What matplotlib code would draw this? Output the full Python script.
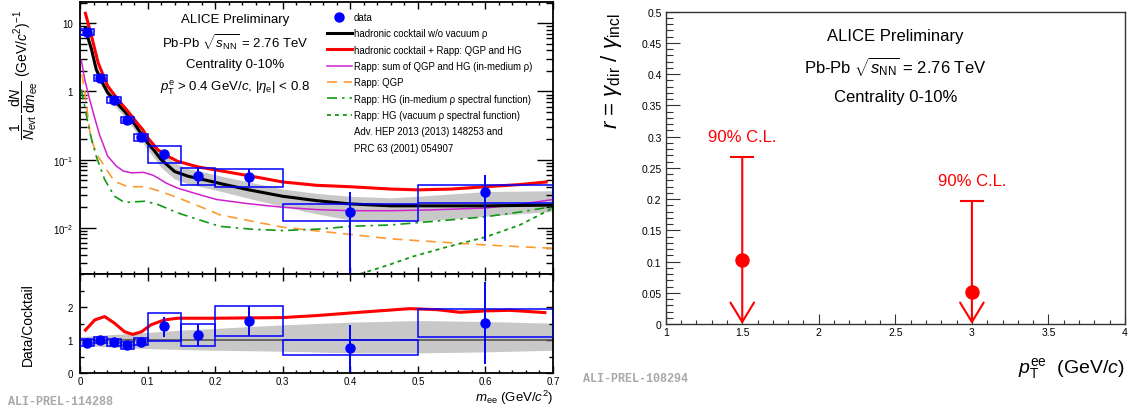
import numpy as np
import matplotlib
matplotlib.use('Agg')
import matplotlib.pyplot as plt
from matplotlib.lines import Line2D
from matplotlib.ticker import MultipleLocator, FixedLocator, FuncFormatter, LogLocator, NullFormatter

plt.rcParams['font.family'] = ['Liberation Sans', 'DejaVu Sans']
plt.rcParams['mathtext.fontset'] = 'custom'
plt.rcParams['mathtext.rm'] = 'Liberation Sans'
plt.rcParams['mathtext.it'] = 'Liberation Sans:italic'
plt.rcParams['mathtext.bf'] = 'Liberation Sans:bold'

# --- dielectron data points (Pb-Pb, 0-10%) ---
m_pts = [0.01, 0.03, 0.05, 0.07, 0.09, 0.125, 0.175, 0.25, 0.40, 0.60]
bin_lo = [0.0, 0.02, 0.04, 0.06, 0.08, 0.10, 0.15, 0.20, 0.30, 0.50]
bin_hi = [0.02, 0.04, 0.06, 0.08, 0.10, 0.15, 0.20, 0.30, 0.50, 0.70]
yield_pts = [7.45, 1.59, 0.755, 0.38, 0.216, 0.119, 0.058, 0.055, 0.0172, 0.033]
yield_sys_lo = [6.7, 1.43, 0.68, 0.34, 0.19, 0.089, 0.042, 0.040, 0.0125, 0.023]
yield_sys_hi = [8.2, 1.76, 0.83, 0.42, 0.24, 0.158, 0.076, 0.072, 0.0224, 0.042]
yield_stat_lo = [7.1, 1.52, 0.72, 0.36, 0.205, 0.095, 0.043, 0.041, 0.001, 0.0063]
yield_stat_hi = [7.8, 1.66, 0.79, 0.40, 0.227, 0.14, 0.075, 0.072, 0.033, 0.060]

# data / cocktail
ratio_pts = [0.92, 1.0, 0.93, 0.85, 0.95, 1.41, 1.15, 1.58, 0.76, 1.51]
ratio_sys_lo = [0.81, 0.90, 0.83, 0.74, 0.85, 0.98, 0.81, 1.12, 0.55, 1.08]
ratio_sys_hi = [1.02, 1.09, 1.02, 0.95, 1.05, 1.81, 1.49, 2.02, 1.0, 1.95]
ratio_stat_lo = [0.88, 0.96, 0.89, 0.81, 0.90, 1.10, 0.82, 1.12, 0.03, 0.28]
ratio_stat_hi = [0.96, 1.04, 0.97, 0.89, 1.0, 1.71, 1.50, 2.02, 1.46, 2.76]

# hadronic cocktail w/o vacuum rho and its uncertainty band
cock_m = [0.008, 0.012, 0.017, 0.024, 0.032, 0.041, 0.051, 0.066, 0.081, 0.096, 0.10, 0.11, 0.12,
          0.13, 0.14, 0.16, 0.194, 0.21, 0.25, 0.30, 0.35, 0.40, 0.46, 0.50, 0.60, 0.70]
cock_y = [8.5, 6.0, 4.15, 2.1, 1.41, 0.96, 0.74, 0.51, 0.33, 0.20, 0.176, 0.135, 0.10,
          0.082, 0.067, 0.057, 0.048, 0.044, 0.036, 0.029, 0.025, 0.0224, 0.021, 0.021, 0.021, 0.0215]
cock_lo = [7.4, 5.2, 3.6, 1.8, 1.2, 0.82, 0.62, 0.42, 0.27, 0.16, 0.14, 0.105, 0.077,
           0.063, 0.052, 0.044, 0.037, 0.034, 0.027, 0.0205, 0.016, 0.013, 0.0123, 0.0125, 0.0148, 0.0174]
cock_hi = [9.4, 6.7, 4.7, 2.4, 1.6, 1.1, 0.85, 0.59, 0.39, 0.24, 0.215, 0.17, 0.13,
           0.108, 0.09, 0.074, 0.062, 0.057, 0.047, 0.037, 0.032, 0.029, 0.0275, 0.029, 0.034, 0.035]

# cocktail + Rapp (QGP and HG)
total_m = [0.008, 0.017, 0.027, 0.041, 0.056, 0.071, 0.086, 0.093, 0.10, 0.115, 0.13, 0.145, 0.175,
           0.21, 0.25, 0.30, 0.35, 0.40, 0.46, 0.50, 0.55, 0.60, 0.65, 0.69]
total_y = [14, 6.5, 2.6, 1.2, 0.76, 0.51, 0.33, 0.275, 0.21, 0.14, 0.112, 0.094, 0.078,
           0.068, 0.058, 0.047, 0.042, 0.040, 0.037, 0.036, 0.037, 0.040, 0.043, 0.047]

# Rapp: sum of QGP and HG (in-medium rho)
rapp_m = [0.002, 0.007, 0.0143, 0.0217, 0.029, 0.041, 0.054, 0.064, 0.076, 0.094, 0.108, 0.115, 0.128,
          0.145, 0.175, 0.202, 0.25, 0.30, 0.35, 0.40, 0.46, 0.52, 0.60, 0.65, 0.70]
rapp_y = [2.86, 1.5, 0.76, 0.41, 0.23, 0.112, 0.08, 0.068, 0.064, 0.065, 0.059, 0.054, 0.045,
          0.038, 0.031, 0.026, 0.0225, 0.020, 0.0185, 0.0178, 0.0178, 0.0183, 0.0195, 0.022, 0.026]

# Rapp: QGP
qgp_m = [0.003, 0.007, 0.011, 0.0143, 0.019, 0.026, 0.0365, 0.051, 0.071, 0.096, 0.12, 0.145, 0.175,
         0.207, 0.256, 0.30, 0.355, 0.40, 0.459, 0.518, 0.60, 0.70]
qgp_y = [1.78, 0.98, 0.49, 0.27, 0.17, 0.115, 0.079, 0.048, 0.040, 0.040, 0.034, 0.0275, 0.021,
         0.0155, 0.0124, 0.0102, 0.0089, 0.008, 0.0069, 0.0063, 0.0056, 0.005]

# Rapp: HG, in-medium rho spectral function
hg_med_m = [0.002, 0.007, 0.012, 0.017, 0.024, 0.0365, 0.051, 0.066, 0.08, 0.096, 0.115, 0.145, 0.175,
            0.207, 0.256, 0.30, 0.355, 0.40, 0.459, 0.518, 0.60, 0.65, 0.70]
hg_med_y = [1.07, 0.6, 0.33, 0.2, 0.112, 0.051, 0.029, 0.0235, 0.024, 0.0245, 0.022, 0.0165, 0.0132,
            0.0105, 0.0095, 0.0091, 0.0096, 0.0105, 0.011, 0.0123, 0.0145, 0.017, 0.0205]

# Rapp: HG, vacuum rho spectral function
hg_vac_m = [0.414, 0.444, 0.459, 0.493, 0.542, 0.60, 0.651, 0.70]
hg_vac_y = [0.0021, 0.0026, 0.0029, 0.0038, 0.0052, 0.0073, 0.011, 0.0195]

# ratio panel curves
ratio_total_m = [0.008, 0.022, 0.0365, 0.051, 0.066, 0.078, 0.091, 0.105, 0.125, 0.145, 0.2, 0.3,
                 0.35, 0.414, 0.488, 0.528, 0.562, 0.60, 0.636, 0.688]
ratio_total_y = [1.30, 1.61, 1.71, 1.51, 1.25, 1.17, 1.25, 1.46, 1.61, 1.66, 1.66, 1.68,
                 1.74, 1.84, 1.95, 1.92, 1.84, 1.88, 1.9, 1.83]
ratio_band_m = [0.0, 0.02, 0.05, 0.1, 0.15, 0.2, 0.3, 0.4, 0.5, 0.6, 0.7]
ratio_band_lo = [0.85, 0.82, 0.78, 0.74, 0.71, 0.69, 0.66, 0.61, 0.61, 0.64, 0.69]
ratio_band_hi = [1.1, 1.13, 1.17, 1.23, 1.3, 1.35, 1.46, 1.54, 1.59, 1.56, 1.51]

# direct photon fraction upper limits
pt_ee = [1.5, 3.0]
r_val = [0.1025, 0.0507]
r_limit = [0.267, 0.197]

blue = '#0000ff'
red = '#ff0000'
magenta = '#d020d0'
orange = '#ff9933'
green = '#119911'
band_grey = '#c8c8c8'

W, H = 1133, 410
fig = plt.figure(figsize=(W / 100, H / 100), dpi=100)
ax_top = fig.add_axes([80 / W, 1 - 275 / H, 473 / W, 272 / H])
ax_rat = fig.add_axes([80 / W, 1 - 374 / H, 473 / W, 99 / H])
ax_r = fig.add_axes([665.7 / W, 1 - 325 / H, 459.3 / W, 312.3 / H])

# ---------------- upper left: invariant mass spectrum ----------------
ax_top.set_yscale('log')
ax_top.fill_between(cock_m, cock_lo, cock_hi, color=band_grey, lw=0, zorder=1)
l_cock, = ax_top.plot(cock_m, cock_y, color='black', lw=2.2, zorder=3)
l_tot, = ax_top.plot(total_m, total_y, color=red, lw=2.2, zorder=3)
l_rapp, = ax_top.plot(rapp_m, rapp_y, color=magenta, lw=1.1, zorder=2)
l_qgp, = ax_top.plot(qgp_m, qgp_y, color=orange, lw=1.2, dashes=(6, 4), zorder=2)
l_med, = ax_top.plot(hg_med_m, hg_med_y, color=green, lw=1.2, dashes=(6, 3, 1.5, 3), zorder=2)
l_vac, = ax_top.plot(hg_vac_m, hg_vac_y, color=green, lw=1.3, dashes=(2.2, 2.2), zorder=2)

# systematic boxes + statistical errors
y = np.array(yield_pts)
ax_top.bar(bin_lo, np.array(yield_sys_hi) - np.array(yield_sys_lo), width=np.array(bin_hi) - np.array(bin_lo),
           bottom=yield_sys_lo, align='edge', fill=False, edgecolor=blue, lw=1.1, zorder=4)
eb = ax_top.errorbar(m_pts, y, yerr=[y - np.array(yield_stat_lo), np.array(yield_stat_hi) - y],
                     fmt='o', color=blue, ms=6.5, elinewidth=1.4, capsize=0, zorder=5)

ax_top.set_xlim(0, 0.7)
ax_top.set_ylim(2.1e-3, 20.5)
ax_top.xaxis.set_major_locator(MultipleLocator(0.1))
ax_top.xaxis.set_minor_locator(MultipleLocator(0.02))
ax_top.yaxis.set_major_locator(FixedLocator([1e-2, 1e-1, 1, 10]))
ax_top.yaxis.set_minor_locator(LogLocator(subs=range(2, 10)))
ax_top.yaxis.set_minor_formatter(NullFormatter())


def log_label(v, pos):
    if v >= 1:
        return '%g' % v
    return r'$10^{%d}$' % round(np.log10(v))


ax_top.yaxis.set_major_formatter(FuncFormatter(log_label))
ax_top.tick_params(axis='both', which='both', direction='in', top=True, right=True,
                   labelbottom=False, labelsize=7, pad=5, width=1)
ax_top.tick_params(axis='y', which='major', length=11.5)
ax_top.tick_params(axis='y', which='minor', length=5)
ax_top.tick_params(axis='x', which='major', length=5)
ax_top.tick_params(axis='x', which='minor', length=2.5)
for s in ax_top.spines.values():
    s.set_linewidth(1.3)

ax_top.set_ylabel(r'$\dfrac{1}{N_{\rm evt}}\,\dfrac{{\rm d}N}{{\rm d}m_{\rm ee}}$ (GeV/$c^2$)$^{-1}$',
                  fontsize=10, loc='top')
ax_top.yaxis.set_label_coords(-0.085, 0.975)

for txt, yy in [('ALICE Preliminary', 0.9375),
                (r'Pb-Pb $\sqrt{s_{\rm NN}}$ = 2.76 TeV', 0.853),
                ('Centrality 0-10%', 0.772),
                (r'$p_{\rm T}^{\rm e}$ > 0.4 GeV/$c$, $|\eta_{\rm e}|$ < 0.8', 0.688)]:
    ax_top.text(0.328, yy, txt, transform=ax_top.transAxes, ha='center', va='center', fontsize=9.5)

blank = Line2D([], [], color='none')
ax_top.legend([eb[0], l_cock, l_tot, l_rapp, l_qgp, l_med, l_vac, blank, blank],
              ['data', 'hadronic cocktail w/o vacuum ρ', 'hadronic cocktail + Rapp: QGP and HG',
               'Rapp: sum of QGP and HG (in-medium ρ)', 'Rapp: QGP',
               'Rapp: HG (in-medium ρ spectral function)', 'Rapp: HG (vacuum ρ spectral function)',
               'Adv. HEP 2013 (2013) 148253 and', 'PRC 63 (2001) 054907'],
              loc='upper left', bbox_to_anchor=(0.522, 0.963), frameon=False, fontsize=6.9,
              borderpad=0, handlelength=2.6, handletextpad=0.2, labelspacing=0.66, borderaxespad=0)

# ---------------- lower left: data / cocktail ----------------
ax_rat.fill_between(ratio_band_m, ratio_band_lo, ratio_band_hi, color=band_grey, lw=0, zorder=1)
ax_rat.axhline(1, color='#555555', lw=1.2, zorder=2)
ax_rat.plot(ratio_total_m, ratio_total_y, color=red, lw=2.2, zorder=3)
r = np.array(ratio_pts)
ax_rat.bar(bin_lo, np.array(ratio_sys_hi) - np.array(ratio_sys_lo), width=np.array(bin_hi) - np.array(bin_lo),
           bottom=ratio_sys_lo, align='edge', fill=False, edgecolor=blue, lw=1.1, zorder=4)
ax_rat.errorbar(m_pts, r, yerr=[r - np.array(ratio_stat_lo), np.array(ratio_stat_hi) - r],
                fmt='o', color=blue, ms=6.5, elinewidth=1.4, capsize=0, zorder=5)
ax_rat.set_xlim(0, 0.7)
ax_rat.set_ylim(0, 3)
ax_rat.xaxis.set_major_locator(MultipleLocator(0.1))
ax_rat.xaxis.set_minor_locator(MultipleLocator(0.02))
ax_rat.yaxis.set_major_locator(FixedLocator([0, 1, 2]))
ax_rat.yaxis.set_minor_locator(MultipleLocator(0.5))
ax_rat.xaxis.set_major_formatter(FuncFormatter(lambda v, p: '%g' % round(v, 2)))
ax_rat.tick_params(axis='both', which='both', direction='in', top=True, right=True, labelsize=7, width=1)
ax_rat.tick_params(axis='x', which='major', length=5, pad=2)
ax_rat.tick_params(axis='x', which='minor', length=2.5)
ax_rat.tick_params(axis='y', which='major', length=5, pad=5)
ax_rat.tick_params(axis='y', which='minor', length=3)
for s in ax_rat.spines.values():
    s.set_linewidth(1.3)
ax_rat.set_ylabel('Data/Cocktail', fontsize=10)
ax_rat.yaxis.set_label_coords(-0.095, 0.5)
ax_rat.set_xlabel(r'$m_{\rm ee}$ (GeV/$c^2$)', fontsize=9.5, loc='right')
ax_rat.xaxis.set_label_coords(1.0, -0.145)

# ---------------- right: r = gamma_dir / gamma_incl ----------------
ax_r.plot(pt_ee, r_val, 'o', color=red, ms=9.4, zorder=4)
ax_r.plot(pt_ee, r_limit, ls='none', marker='_', ms=17, mew=1.5, color=red, zorder=4)
for x0, lim in zip(pt_ee, r_limit):
    ax_r.annotate('', xy=(x0, 0), xytext=(x0, lim),
                  arrowprops=dict(arrowstyle='->,head_length=1.4,head_width=0.85', color=red,
                                  lw=1.5, shrinkA=0, shrinkB=0), annotation_clip=False)
    ax_r.annotate('90% C.L.', xy=(x0, lim), xytext=(0, 15), textcoords='offset points',
                  ha='center', va='center', color=red, fontsize=12)

ax_r.set_xlim(1, 4)
ax_r.set_ylim(0, 0.5)
ax_r.xaxis.set_major_locator(MultipleLocator(0.5))
ax_r.xaxis.set_minor_locator(MultipleLocator(0.1))
ax_r.yaxis.set_major_locator(MultipleLocator(0.05))
ax_r.yaxis.set_minor_locator(MultipleLocator(0.01))
fmt = FuncFormatter(lambda v, p: '%g' % round(v, 3))
ax_r.xaxis.set_major_formatter(fmt)
ax_r.yaxis.set_major_formatter(fmt)
ax_r.tick_params(axis='both', which='both', direction='in', labelsize=7.5, width=0.8, color='#333333')
ax_r.tick_params(axis='y', which='major', length=10, pad=3)
ax_r.tick_params(axis='y', which='minor', length=4.8)
ax_r.tick_params(axis='x', which='major', length=7, pad=2)
ax_r.tick_params(axis='x', which='minor', length=3.1)
for s in ax_r.spines.values():
    s.set_linewidth(1.0)
    s.set_color('#333333')

ax_r.set_ylabel(r'$r$ = $\gamma_{\rm dir}$ / $\gamma_{\rm incl}$', fontsize=16, loc='top')
ax_r.yaxis.set_label_coords(-0.09, 1.0)
ax_r.set_xlabel(r'$p_{\rm T}^{\rm ee}$  (GeV/$c$)', fontsize=14, loc='right')
ax_r.xaxis.set_label_coords(1.0, -0.1)

for txt, yy in [('ALICE Preliminary', 0.925),
                (r'Pb-Pb $\sqrt{s_{\rm NN}}$ = 2.76 TeV', 0.829),
                ('Centrality 0-10%', 0.727)]:
    ax_r.text(0.5, yy, txt, transform=ax_r.transAxes, ha='center', va='center', fontsize=12)

# preliminary figure IDs
fig.text(8 / W, 1 - 402 / H, 'ALI-PREL-114288', fontsize=8.5, family='Liberation Mono',
         weight='bold', color='#a8a8a8', va='center', ha='left')
fig.text(583 / W, 1 - 379 / H, 'ALI-PREL-108294', fontsize=8.5, family='Liberation Mono',
         weight='bold', color='#a8a8a8', va='center', ha='left')

fig.savefig('out.png', dpi=100)
